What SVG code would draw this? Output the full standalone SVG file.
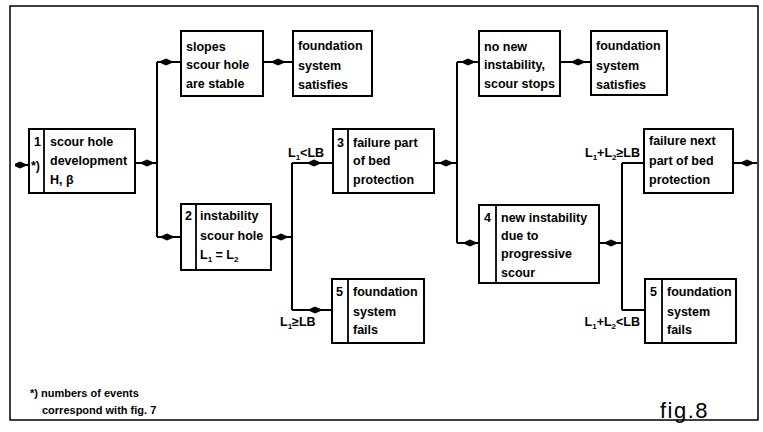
<svg xmlns="http://www.w3.org/2000/svg" width="763" height="432" viewBox="0 0 763 432">
<defs>
<marker id="ah" viewBox="-13 -5 15 10" markerWidth="15" markerHeight="10" refX="0" refY="0" orient="auto" markerUnits="userSpaceOnUse">
<path d="M1 0 L-7 -3.5 L-12 -1.2 L-12 1.2 L-7 3.5 Z" fill="#000"/>
</marker>
<style>
.b{fill:#fff;stroke:#000;stroke-width:2}
.d{stroke:#000;stroke-width:1.8;fill:none}
.c{stroke:#000;stroke-width:2;fill:none;marker-mid:url(#ah)}
.p{stroke:#000;stroke-width:2;fill:none}
text{font-family:"Liberation Sans",Arial,sans-serif;font-weight:bold;font-size:12.5px;fill:#000}
.s{font-size:8px}
.f{font-weight:normal;font-size:22px;letter-spacing:1.5px}
</style>
</defs>
<rect width="763" height="432" fill="#fff"/>
<rect x="10" y="6" width="748" height="414" fill="none" stroke="#000" stroke-width="1.5"/>
<g id="connectors">
<path class="c" d="M16 165 L27 165 L29 165"/>
<path class="c" d="M135 163 L154 163 L157 163"/>
<path class="p" d="M157 62 L157 237"/>
<path class="c" d="M157 62 L173 62 L181 62"/>
<path class="c" d="M157 237 L174 237 L181 237"/>
<path class="c" d="M263 62 L285 62 L293 62"/>
<path class="c" d="M271 237 L288 237 L292 237"/>
<path class="p" d="M292 163 L292 310"/>
<path class="c" d="M292 163 L321 163 L333 163"/>
<path class="c" d="M292 310 L322 310 L332 310"/>
<path class="c" d="M434 163 L453 163 L457 163"/>
<path class="p" d="M457 62 L457 243"/>
<path class="c" d="M457 62 L475 62 L479 62"/>
<path class="c" d="M457 243 L477 243 L479 243"/>
<path class="c" d="M560 62 L585 62 L591 62"/>
<path class="c" d="M599 243 L618 243 L622 243"/>
<path class="p" d="M622 163 L622 310 M622 163 L644 163 M622 310 L645 310"/>
<path class="c" d="M733 163 L754 163 L757 163"/>
</g>
<g id="n1">
<rect class="b" x="29" y="129" width="106" height="64"/>
<line class="d" x1="44" y1="129" x2="44" y2="193"/>
<text x="34" y="146">1</text>
<text x="31" y="170">*)</text>
<text x="50" y="146">scour hole</text>
<text x="50" y="165">development</text>
<text x="50" y="184">H, β</text>
</g>
<g id="slopes">
<rect class="b" x="181" y="31" width="82" height="65"/>
<text x="186" y="51">slopes</text>
<text x="186" y="69">scour hole</text>
<text x="186" y="88">are stable</text>
</g>
<g id="sat1">
<rect class="b" x="293" y="31" width="79" height="65"/>
<text x="298" y="50">foundation</text>
<text x="298" y="70">system</text>
<text x="298" y="89">satisfies</text>
</g>
<g id="n2">
<rect class="b" x="181" y="204" width="90" height="66"/>
<line class="d" x1="196" y1="204" x2="196" y2="270"/>
<text x="185" y="220">2</text>
<text x="200" y="220">instability</text>
<text x="200" y="240">scour hole</text>
<text x="200" y="259">L<tspan class="s" dy="3">1</tspan><tspan dy="-3"> = L</tspan><tspan class="s" dy="3">2</tspan></text>
</g>
<g id="n3">
<rect class="b" x="333" y="129" width="101" height="64"/>
<line class="d" x1="348" y1="129" x2="348" y2="193"/>
<text x="337" y="147">3</text>
<text x="353" y="147">failure part</text>
<text x="353" y="165">of bed</text>
<text x="353" y="184">protection</text>
</g>
<g id="n5a">
<rect class="b" x="332" y="279" width="92" height="64"/>
<line class="d" x1="348" y1="279" x2="348" y2="343"/>
<text x="336" y="296">5</text>
<text x="353" y="296">foundation</text>
<text x="353" y="316">system</text>
<text x="353" y="334">fails</text>
</g>
<g id="nonew">
<rect class="b" x="479" y="31" width="81" height="65"/>
<text x="484" y="51">no new</text>
<text x="484" y="69">instability,</text>
<text x="484" y="88">scour stops</text>
</g>
<g id="sat2">
<rect class="b" x="591" y="31" width="76" height="64"/>
<text x="596" y="50">foundation</text>
<text x="596" y="70">system</text>
<text x="596" y="89">satisfies</text>
</g>
<g id="n4">
<rect class="b" x="479" y="205" width="120" height="78"/>
<line class="d" x1="496" y1="205" x2="496" y2="283"/>
<text x="484" y="222">4</text>
<text x="501" y="222">new instability</text>
<text x="501" y="240">due to</text>
<text x="501" y="258">progressive</text>
<text x="501" y="277">scour</text>
</g>
<g id="next">
<rect class="b" x="644" y="129" width="89" height="64"/>
<text x="649" y="145">failure next</text>
<text x="649" y="165">part of bed</text>
<text x="649" y="184">protection</text>
</g>
<g id="n5b">
<rect class="b" x="645" y="279" width="91" height="64"/>
<line class="d" x1="662" y1="279" x2="662" y2="343"/>
<text x="650" y="296">5</text>
<text x="667" y="296">foundation</text>
<text x="667" y="316">system</text>
<text x="667" y="334">fails</text>
</g>
<g id="labels">
<text x="288" y="157">L<tspan class="s" dy="3">1</tspan><tspan dy="-3">&lt;LB</tspan></text>
<text x="280" y="326">L<tspan class="s" dy="3">1</tspan><tspan dy="-3">≥LB</tspan></text>
<text x="640" y="157" text-anchor="end">L<tspan class="s" dy="3">1</tspan><tspan dy="-3">+L</tspan><tspan class="s" dy="3">2</tspan><tspan dy="-3">≥LB</tspan></text>
<text x="640" y="326" text-anchor="end">L<tspan class="s" dy="3">1</tspan><tspan dy="-3">+L</tspan><tspan class="s" dy="3">2</tspan><tspan dy="-3">&lt;LB</tspan></text>
<text x="30" y="397" style="font-size:11px">*) numbers of events</text>
<text x="42" y="414" style="font-size:11px">correspond with fig. 7</text>
<text class="f" x="660" y="418">fig.8</text>
</g>
</svg>
